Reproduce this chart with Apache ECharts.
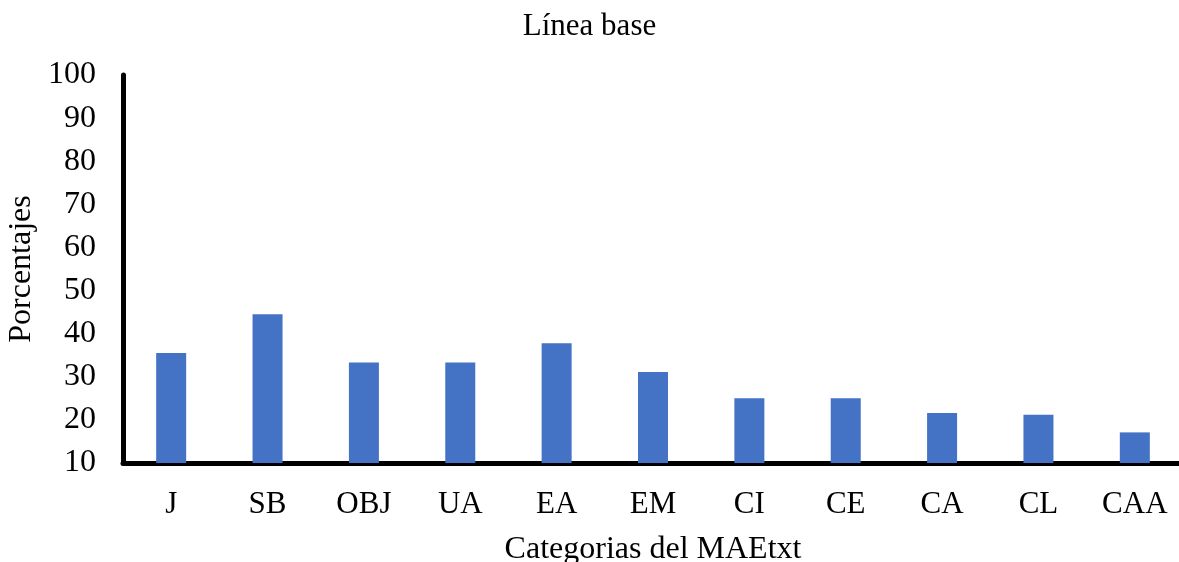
<!DOCTYPE html>
<html>
<head>
<meta charset="utf-8">
<script src="https://cdn.jsdelivr.net/npm/echarts@6/dist/echarts.min.js"></script>
<style>html,body{margin:0;padding:0;background:#fff}#c{width:1179px;height:562px}</style>
</head>
<body>
<div id="c"></div>
<script>
const categories = ['J','SB','OBJ','UA','EA','EM','CI','CE','CA','CL','CAA'];
const values = [35.5, 44.5, 33.3, 33.3, 37.8, 31.1, 25.0, 25.0, 21.6, 21.2, 17.1];
const yMin = 10, yMax = 100, yStep = 10;
const font = 'Liberation Serif, Times New Roman, serif';
const chart = echarts.init(document.getElementById('c'));
chart.setOption({
  animation: false,
  backgroundColor: '#fff',
  title: {
    text: 'Línea base', left: 'center', top: 6,
    textStyle: {fontFamily: font, fontSize: 31, fontWeight: 'normal', color: '#000'}
  },
  grid: {left: 123, right: -4, top: 75, bottom: 99, containLabel: false, outerBoundsMode: 'none'},
  xAxis: {
    type: 'category', data: categories,
    name: 'Categorias del MAEtxt', nameLocation: 'middle', nameGap: 71,
    nameTextStyle: {fontFamily: font, fontSize: 32, color: '#000'},
    axisLine: {lineStyle: {color: '#000', width: 5}},
    axisTick: {show: false},
    axisLabel: {fontFamily: font, fontSize: 31, color: '#000', margin: 26}
  },
  yAxis: {
    type: 'value', min: yMin, max: yMax, interval: yStep,
    name: 'Porcentajes', nameLocation: 'middle', nameGap: 85,
    nameTextStyle: {fontFamily: font, fontSize: 32, color: '#000'},
    axisLine: {show: true, lineStyle: {color: '#000', width: 5}},
    axisTick: {show: false},
    splitLine: {show: false},
    axisLabel: {fontFamily: font, fontSize: 32, color: '#000', margin: 27}
  },
  series: [{
    type: 'bar', data: values, barWidth: 30,
    itemStyle: {color: '#4472C4'}
  }]
});
</script>
</body>
</html>
